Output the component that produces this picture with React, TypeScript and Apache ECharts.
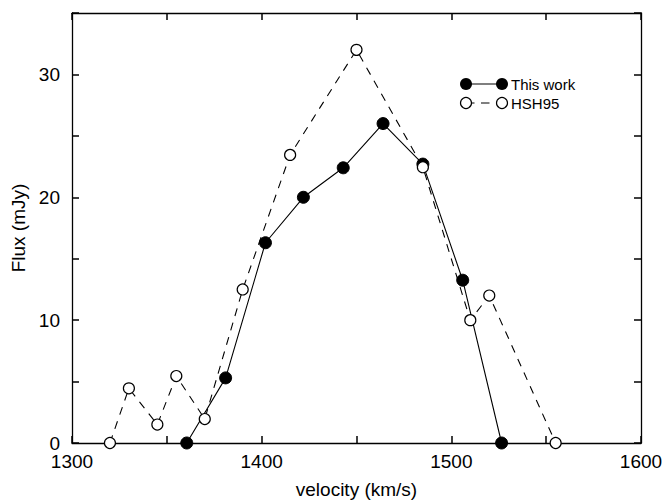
import React, { useEffect, useRef } from "react";
import * as echarts from "echarts";

const thisWorkVel = [1360.5, 1381, 1402, 1422, 1443, 1464, 1485, 1506, 1526.5];
const thisWorkFlux = [0, 5.3, 16.3, 20, 22.4, 26, 22.7, 13.25, 0];
const hshVel = [1320, 1330, 1345, 1355, 1370, 1390, 1415, 1450, 1485, 1510, 1520, 1555];
const hshFlux = [0, 4.45, 1.5, 5.45, 1.95, 12.5, 23.45, 32, 22.45, 10, 12, 0];
const xTickLabels = [1300, 1400, 1500, 1600];
const yTickLabels = [0, 10, 20, 30];

const FONT = "'Liberation Sans', Arial, Helvetica, sans-serif";

const mkLine = () => ({ show: true, onZero: false, lineStyle: { color: "#000", width: 1.3 } });
const mkTick = () => ({ show: true, inside: true, length: 7, lineStyle: { color: "#000", width: 1.5 } });

export default function App() {
  const ref = useRef<HTMLDivElement>(null);
  useEffect(() => {
    document.body.style.margin = "0";
    const chart = echarts.init(ref.current!, null, { renderer: "svg" });
    chart.setOption({
      animation: false,
      backgroundColor: "#fff",
      grid: { left: 72, right: 25, top: 13, bottom: 58, containLabel: false },
      xAxis: [
        {
          type: "value",
          min: 1300,
          max: 1600,
          interval: 50,
          position: "bottom",
          name: "velocity (km/s)",
          nameLocation: "middle",
          nameGap: 37,
          nameTextStyle: { color: "#000", fontFamily: FONT, fontSize: 19 },
          axisLine: mkLine(),
          axisTick: mkTick(),
          axisLabel: {
            color: "#000",
            fontFamily: FONT,
            fontSize: 19,
            lineHeight: 17,
            margin: 10,
            formatter: (v: number) => (xTickLabels.includes(v) ? String(v) : ""),
          },
          splitLine: { show: false },
        },
        {
          type: "value",
          min: 1300,
          max: 1600,
          interval: 50,
          position: "top",
          axisLine: mkLine(),
          axisTick: mkTick(),
          axisLabel: { show: false },
          splitLine: { show: false },
        },
      ],
      yAxis: [
        {
          type: "value",
          min: 0,
          max: 35,
          interval: 5,
          position: "left",
          name: "Flux (mJy)",
          nameLocation: "middle",
          nameGap: 42,
          nameRotate: 90,
          nameTextStyle: { color: "#000", fontFamily: FONT, fontSize: 19 },
          axisLine: mkLine(),
          axisTick: mkTick(),
          axisLabel: {
            color: "#000",
            fontFamily: FONT,
            fontSize: 19,
            lineHeight: 17,
            margin: 12,
            formatter: (v: number) => (yTickLabels.includes(v) ? String(v) : ""),
          },
          splitLine: { show: false },
        },
        {
          type: "value",
          min: 0,
          max: 35,
          interval: 5,
          position: "right",
          axisLine: mkLine(),
          axisTick: mkTick(),
          axisLabel: { show: false },
          splitLine: { show: false },
        },
      ],
      series: [
        {
          name: "This work",
          type: "line",
          data: thisWorkVel.map((v, i) => [v, thisWorkFlux[i]]),
          symbol: "circle",
          symbolSize: 12,
          itemStyle: { color: "#000", borderColor: "#000", borderWidth: 1 },
          lineStyle: { color: "#000", width: 1.1, type: "solid" },
          z: 2,
        },
        {
          name: "HSH95",
          type: "line",
          data: hshVel.map((v, i) => [v, hshFlux[i]]),
          symbol: "circle",
          symbolSize: 11,
          itemStyle: { color: "#fff", borderColor: "#000", borderWidth: 1.2 },
          lineStyle: { color: "#000", width: 1.1, type: [8, 7] },
          z: 3,
        },
      ],
      graphic: [
        { type: "line", shape: { x1: 466, y1: 84, x2: 502, y2: 84 }, style: { stroke: "#000", lineWidth: 1.2 }, z: 10 },
        { type: "circle", shape: { cx: 466, cy: 84, r: 6 }, style: { fill: "#000" }, z: 11 },
        { type: "circle", shape: { cx: 502, cy: 84, r: 6 }, style: { fill: "#000" }, z: 11 },
        {
          type: "text",
          x: 511,
          y: 84,
          style: { text: "This work", fill: "#000", font: `15px ${FONT}`, verticalAlign: "middle", align: "left" },
          z: 11,
        },
        { type: "line", shape: { x1: 466, y1: 103, x2: 502, y2: 103 }, style: { stroke: "#000", lineWidth: 1.2, lineDash: [8.5, 6.5] }, z: 10 },
        { type: "circle", shape: { cx: 466, cy: 103, r: 5.5 }, style: { fill: "#fff", stroke: "#000", lineWidth: 1.2 }, z: 11 },
        { type: "circle", shape: { cx: 502, cy: 103, r: 5.5 }, style: { fill: "#fff", stroke: "#000", lineWidth: 1.2 }, z: 11 },
        {
          type: "text",
          x: 511,
          y: 103,
          style: { text: "HSH95", fill: "#000", font: `15px ${FONT}`, verticalAlign: "middle", align: "left" },
          z: 11,
        },
      ],
    });
    return () => chart.dispose();
  }, []);
  return <div ref={ref} style={{ width: 666, height: 504 }} />;
}
